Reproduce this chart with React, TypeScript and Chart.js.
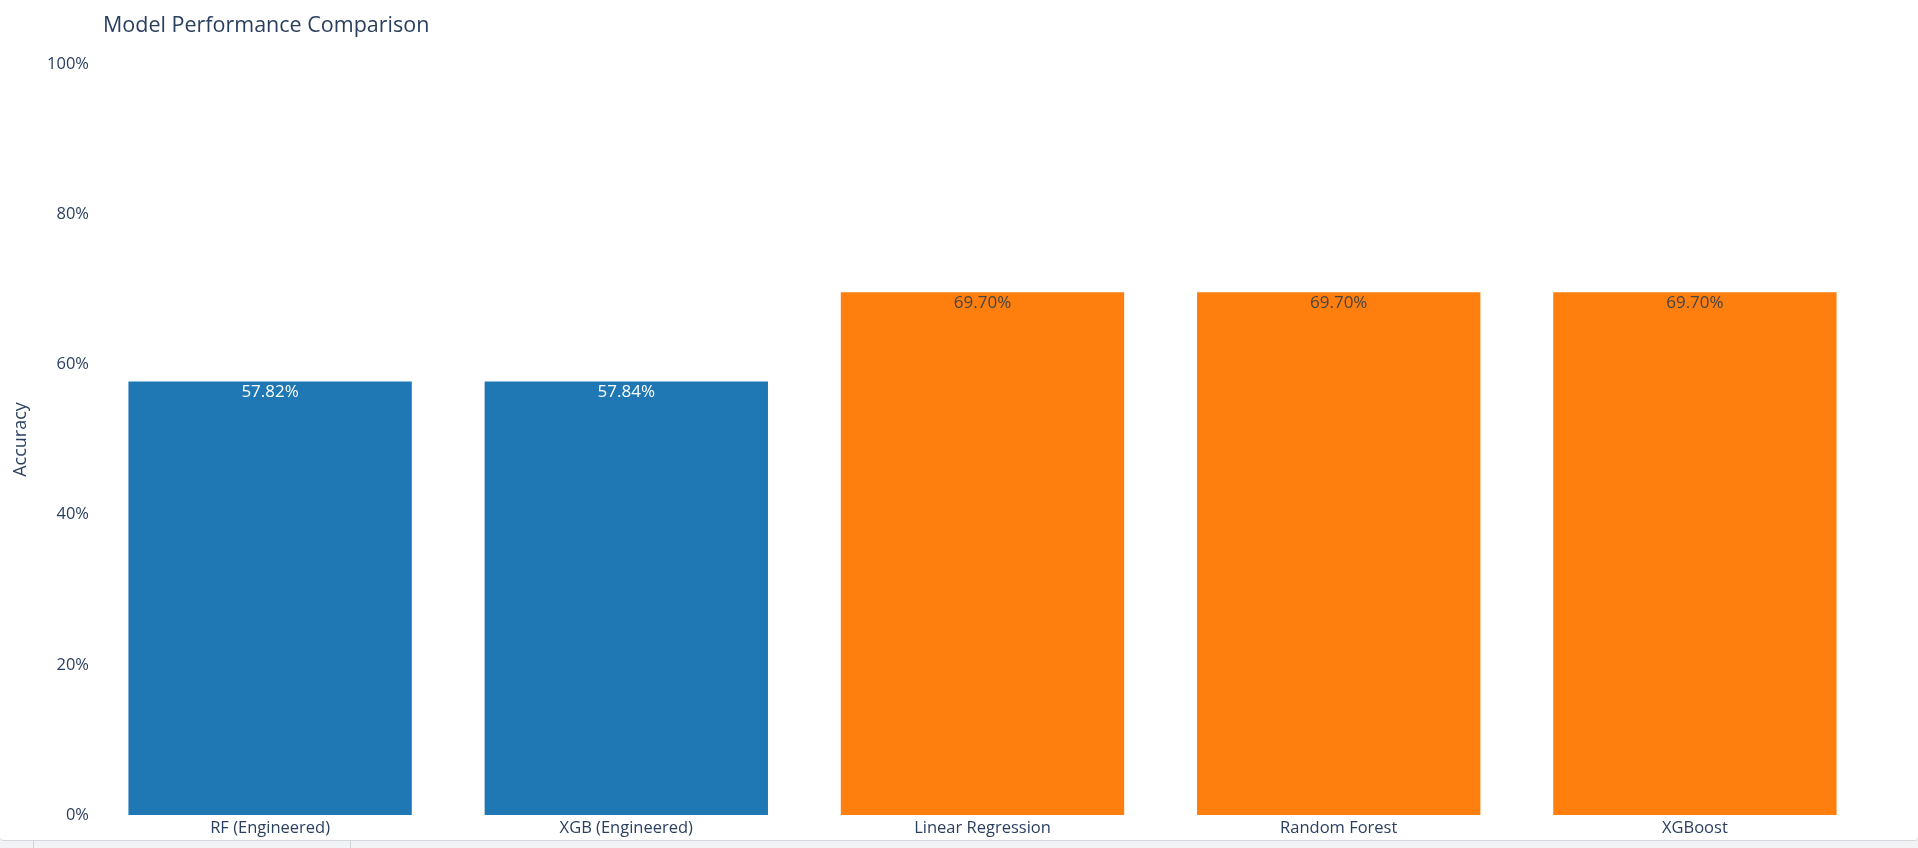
import React, { useEffect, useRef } from "react";
import { Chart, registerables } from "chart.js";

Chart.register(...registerables);

const categories = ["RF (Engineered)", "XGB (Engineered)", "Linear Regression", "Random Forest", "XGBoost"];
const accuracyPct = [57.82, 57.84, 69.7, 69.7, 69.7];
const groups = ["engineered", "engineered", "baseline", "baseline", "baseline"];
const yTicks = [0, 20, 40, 60, 80, 100];
const chartTitle = "Model Performance Comparison";
const yTitle = "Accuracy";

const groupColors: Record<string, string> = { engineered: "#1f77b4", baseline: "#ff7f0e" };
const groupTextColors: Record<string, string> = { engineered: "#ffffff", baseline: "#444444" };
const FONT = "'Open Sans', verdana, arial, sans-serif";

export default function App() {
  const ref = useRef<HTMLCanvasElement | null>(null);

  useEffect(() => {
    if (!ref.current) return;
    const overlay = {
      id: "overlay",
      afterDatasetsDraw(chart: any) {
        const ctx = chart.ctx;
        ctx.save();
        ctx.font = `21.5px ${FONT}`;
        ctx.fillStyle = "#2a3f5f";
        ctx.textAlign = "left";
        ctx.textBaseline = "middle";
        ctx.fillText(chartTitle, 103, 26);
        const meta = chart.getDatasetMeta(0);
        ctx.font = `17px ${FONT}`;
        ctx.textAlign = "center";
        ctx.textBaseline = "top";
        meta.data.forEach((bar: any, i: number) => {
          ctx.fillStyle = groupTextColors[groups[i]];
          ctx.fillText(accuracyPct[i].toFixed(2) + "%", bar.x, bar.y + 3);
        });
        ctx.restore();
      },
    };
    const chart = new Chart(ref.current, {
      type: "bar",
      data: {
        labels: categories,
        datasets: [
          {
            data: accuracyPct,
            backgroundColor: groups.map((g) => groupColors[g]),
            borderColor: "rgba(255,255,255,0.6)",
            borderWidth: 0.8,
            barPercentage: 0.8,
            categoryPercentage: 1,
          },
        ],
      },
      options: {
        responsive: false,
        animation: false,
        layout: { padding: { top: 64, right: 45, bottom: 0, left: 0 } },
        plugins: { legend: { display: false }, tooltip: { enabled: false }, title: { display: false } },
        scales: {
          x: {
            grid: { display: false, drawTicks: false },
            border: { display: false },
            ticks: { color: "#2a3f5f", font: { family: FONT, size: 16.5 }, padding: 3, maxRotation: 0 },
            afterFit(scale: any) {
              scale.height = 25;
            },
          },
          y: {
            min: 0,
            max: 100,
            grid: { display: false, drawTicks: false },
            border: { display: false },
            afterBuildTicks(scale: any) {
              scale.ticks = yTicks.map((v) => ({ value: v }));
            },
            ticks: {
              color: "#2a3f5f",
              font: { family: FONT, size: 16.5 },
              padding: 3,
              callback: (v: any) => v + "%",
            },
            title: {
              display: true,
              text: yTitle,
              color: "#2a3f5f",
              font: { family: FONT, size: 18 },
              padding: { top: 10, bottom: 0 },
            },
            afterFit(scale: any) {
              scale.width = 92;
            },
          },
        },
      },
      plugins: [overlay],
    });
    return () => chart.destroy();
  }, []);

  return (
    <div style={{ position: "absolute", left: 0, top: 0, width: 1918, height: 848, background: "#f2f3f4", overflow: "hidden" }}>
      <div style={{ position: "absolute", left: 33, top: 841, width: 1, height: 7, background: "#d0d4da" }} />
      <div style={{ position: "absolute", left: 350, top: 841, width: 1, height: 7, background: "#d0d4da" }} />
      <div
        style={{
          position: "absolute",
          left: 0,
          top: 0,
          width: 1918,
          height: 840,
          background: "#ffffff",
          borderBottom: "1px solid #d3d7de",
          borderRadius: "0 0 4px 4px",
        }}
      >
        <canvas ref={ref} width={1918} height={840} style={{ display: "block" }} />
      </div>
    </div>
  );
}
